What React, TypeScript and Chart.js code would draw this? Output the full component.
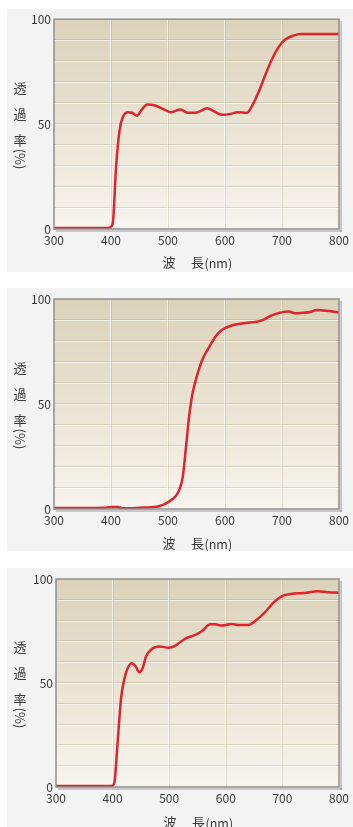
import React, { useEffect, useRef } from 'react';
import { Chart, registerables } from 'chart.js';

Chart.register(...registerables);

// ---- Data ----
const wavelengths1 = [300, 350, 395, 398, 403, 409, 415, 421, 429.5, 437, 446, 453, 464, 476, 490, 505, 522, 534, 548.5, 569, 580, 595, 612, 621, 638.5, 647, 659, 670.5, 682, 694, 705, 720, 734, 760, 800];
const transmittance1 = [0.5, 0.5, 0.5, 0.8, 2.5, 30, 47, 53.5, 55.7, 55.4, 54, 56.6, 59.3, 59, 57.4, 55.7, 57, 55.4, 55.4, 57.6, 56.2, 54.4, 55, 55.7, 55.4, 58.5, 65.3, 73.3, 80.7, 86.7, 90.2, 92.2, 92.9, 92.9, 92.9];

const wavelengths2 = [300, 350, 390, 405, 412, 421, 450, 479, 491, 502, 514, 520, 526, 531, 537, 543, 552, 560, 572, 584, 595, 613, 636, 653, 668, 682, 697, 712, 723, 735, 749, 761, 773, 784, 800];
const transmittance2 = [0.5, 0.5, 0.6, 1.0, 1.0, 0.3, 0.6, 1.1, 2, 3.6, 6.3, 9.2, 15.5, 28, 44, 55, 64.6, 71, 77, 82.4, 85.4, 87.5, 88.6, 89, 90.2, 92.2, 93.5, 94.1, 93.2, 93.4, 93.8, 94.8, 94.5, 94.3, 93.5];

const wavelengths3 = [300, 350, 398, 403, 409, 415, 421, 426.6, 434, 441, 447, 453, 459, 467.5, 482, 499.5, 511, 529, 546, 558, 572.5, 581, 593, 610, 622, 639.5, 654, 669, 686, 701, 715, 739, 762, 779.5, 800];
const transmittance3 = [0.5, 0.5, 0.5, 2, 22, 42.7, 52.3, 57.1, 59.5, 57.9, 55.2, 57.1, 62.7, 65.9, 67.5, 67, 68, 71.5, 73.1, 75, 78.2, 78.2, 77.6, 78.4, 77.9, 77.9, 80.3, 84, 89.1, 92, 92.8, 93.3, 94.1, 93.6, 93.4];

const xMin = 300;
const xMax = 800;
const xStep = 100;
const yMin = 0;
const yMax = 100;
const yStep = 10;
const yLabeledTicks = [0, 50, 100];

const yTitleChars = ['透', '過', '率'];
const yTitleUnit = '(%)';
const xTitleFirst = '波';
const xTitleSecond = '長';
const xTitleUnit = '(nm)';

const FONT = '"Noto Sans CJK JP", "Noto Sans", sans-serif';
const TEXT_COLOR = '#3a3a3a';
const LINE_COLOR = '#e1232c';

type PanelCfg = {
  xs: number[];
  ys: number[];
  top: number;
  height: number;
  padTop: number;
  yWidth: number;
  padRight: number;
  xHeight: number;
  xTitleY: number;
};

const panels: PanelCfg[] = [
  { xs: wavelengths1, ys: transmittance1, top: 9, height: 263, padTop: 10, yWidth: 47, padRight: 12, xHeight: 43, xTitleY: 253 },
  { xs: wavelengths2, ys: transmittance2, top: 288, height: 263, padTop: 11, yWidth: 47, padRight: 12, xHeight: 42, xTitleY: 255 },
  { xs: wavelengths3, ys: transmittance3, top: 568, height: 259, padTop: 11, yWidth: 49, padRight: 11, xHeight: 40, xTitleY: 254 },
];

const decorPlugin = (cfg: PanelCfg) => ({
  id: 'decor',
  beforeDatasetsDraw(chart: any) {
    const { ctx, chartArea } = chart;
    const { left, top, right, bottom } = chartArea;
    const xs = chart.scales.x;
    const ys = chart.scales.y;
    ctx.save();
    const g = ctx.createLinearGradient(0, top, 0, bottom);
    g.addColorStop(0, '#dbd2ba');
    g.addColorStop(0.5, '#e9e3d2');
    g.addColorStop(1, '#f7f4ee');
    ctx.fillStyle = g;
    ctx.fillRect(left, top, right - left, bottom - top);
    ctx.lineWidth = 1;
    ys.ticks.forEach((t: any) => {
      if (t.value <= yMin || t.value >= yMax) return;
      const py = Math.round(ys.getPixelForValue(t.value));
      ctx.strokeStyle = 'rgba(150,130,90,0.25)';
      ctx.beginPath();
      ctx.moveTo(left, py - 0.5);
      ctx.lineTo(right, py - 0.5);
      ctx.stroke();
      ctx.strokeStyle = 'rgba(255,255,255,0.6)';
      ctx.beginPath();
      ctx.moveTo(left, py + 0.5);
      ctx.lineTo(right, py + 0.5);
      ctx.stroke();
    });
    xs.ticks.forEach((t: any) => {
      if (t.value <= xMin || t.value >= xMax) return;
      const px = Math.round(xs.getPixelForValue(t.value));
      ctx.strokeStyle = 'rgba(255,255,255,0.6)';
      ctx.beginPath();
      ctx.moveTo(px - 0.5, top);
      ctx.lineTo(px - 0.5, bottom);
      ctx.stroke();
      ctx.strokeStyle = 'rgba(150,130,90,0.2)';
      ctx.beginPath();
      ctx.moveTo(px + 0.5, top);
      ctx.lineTo(px + 0.5, bottom);
      ctx.stroke();
    });
    ctx.restore();
  },
  afterDatasetsDraw(chart: any) {
    const { ctx, chartArea } = chart;
    const { left, top, right, bottom } = chartArea;
    ctx.save();
    ctx.fillStyle = 'rgba(0,0,0,0.18)';
    ctx.fillRect(right + 1, top + 2, 2, bottom - top + 1);
    ctx.fillRect(left + 2, bottom + 1, right - left + 1, 2);
    ctx.strokeStyle = '#8e8e8e';
    ctx.lineWidth = 1.5;
    ctx.strokeRect(left, top, right - left, bottom - top);
    ctx.restore();
  },
  afterDraw(chart: any) {
    const { ctx, chartArea } = chart;
    const { left, top, right, bottom } = chartArea;
    const cy = (top + bottom) / 2;
    const cx = (left + right) / 2;
    ctx.save();
    ctx.fillStyle = TEXT_COLOR;
    ctx.textAlign = 'center';
    ctx.textBaseline = 'middle';
    ctx.font = `13px ${FONT}`;
    const yOffsets = [-36, -10, 16];
    yTitleChars.forEach((ch, i) => {
      ctx.fillText(ch, 13, cy + yOffsets[i]);
    });
    // rotated unit "(%)"
    ctx.save();
    ctx.translate(13, cy + 35);
    ctx.rotate(Math.PI / 2);
    ctx.font = `13px ${FONT}`;
    ctx.fillText(yTitleUnit, 0, 0);
    ctx.restore();
    ctx.fillText(xTitleFirst, cx - 27.5, cfg.xTitleY);
    ctx.fillText(xTitleSecond, cx + 1, cfg.xTitleY);
    ctx.textAlign = 'left';
    ctx.font = `12.5px ${FONT}`;
    ctx.fillText(xTitleUnit, cx + 8, cfg.xTitleY + 1);
    ctx.restore();
  },
});

function Panel({ cfg }: { cfg: PanelCfg }) {
  const ref = useRef<HTMLCanvasElement | null>(null);
  useEffect(() => {
    if (!ref.current) return;
    const chart = new Chart(ref.current, {
      type: 'line',
      data: {
        datasets: [
          {
            data: cfg.xs.map((x, i) => ({ x, y: cfg.ys[i] })),
            borderColor: LINE_COLOR,
            borderWidth: 2.5,
            pointRadius: 0,
            cubicInterpolationMode: 'monotone',
            fill: false,
          },
        ],
      },
      options: {
        animation: false,
        responsive: false,
        maintainAspectRatio: false,
        layout: { padding: { left: 0, right: cfg.padRight, top: cfg.padTop, bottom: 0 } },
        plugins: { legend: { display: false }, tooltip: { enabled: false } },
        scales: {
          x: {
            type: 'linear',
            min: xMin,
            max: xMax,
            grid: { display: false, drawTicks: false },
            border: { display: false },
            ticks: {
              stepSize: xStep,
              autoSkip: false,
              maxRotation: 0,
              padding: 4,
              color: TEXT_COLOR,
              font: { family: FONT, size: 12 },
            },
            afterFit: (s: any) => {
              s.height = cfg.xHeight;
            },
          },
          y: {
            type: 'linear',
            min: yMin,
            max: yMax,
            grid: { display: false, drawTicks: false },
            border: { display: false },
            ticks: {
              stepSize: yStep,
              autoSkip: false,
              padding: 3,
              color: TEXT_COLOR,
              font: { family: FONT, size: 12 },
              callback: (v: any) => (yLabeledTicks.includes(Number(v)) ? String(v) : ''),
            },
            afterFit: (s: any) => {
              s.width = cfg.yWidth;
            },
          },
        },
      },
      plugins: [decorPlugin(cfg)],
    } as any);
    return () => chart.destroy();
  }, [cfg]);
  return (
    <div
      style={{
        position: 'absolute',
        left: 7,
        top: cfg.top,
        width: 346,
        height: cfg.height,
        background: '#f3f3f3',
      }}
    >
      <canvas ref={ref} width={346} height={cfg.height} style={{ display: 'block', width: 346, height: cfg.height }} />
    </div>
  );
}

export default function App() {
  return (
    <div>
      {panels.map((p, i) => (
        <Panel key={i} cfg={p} />
      ))}
    </div>
  );
}
